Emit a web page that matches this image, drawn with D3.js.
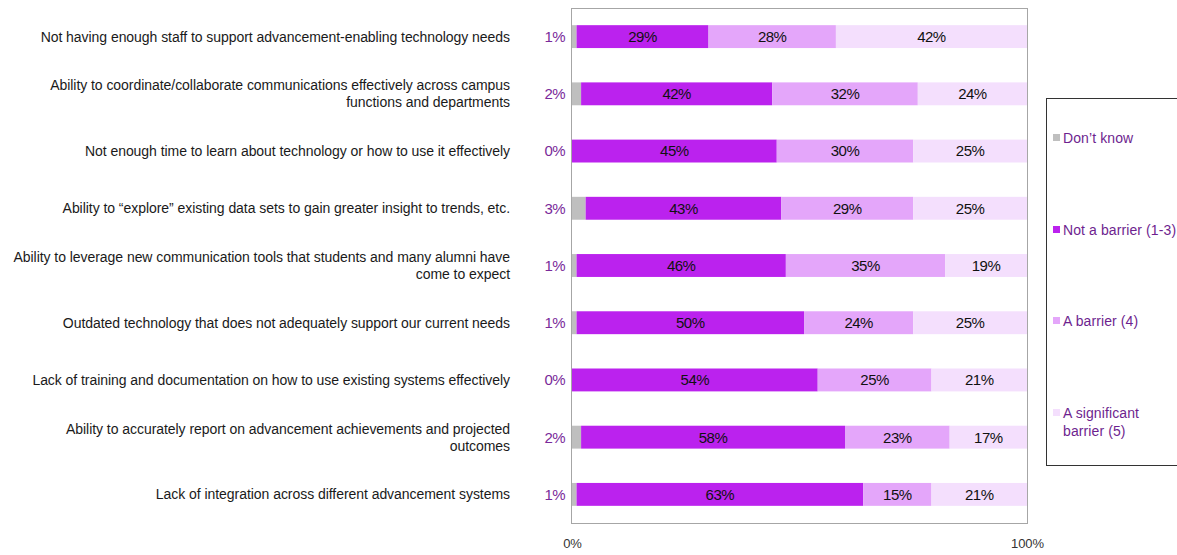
<!DOCTYPE html>
<html>
<head>
<meta charset="utf-8">
<script src="https://cdn.jsdelivr.net/npm/d3@7"></script>
<style>
  html, body { margin: 0; padding: 0; background: #fff; }
  svg { display: block; font-family: "Liberation Sans", Arial, sans-serif; }
</style>
</head>
<body>
<svg id="chart" width="1177" height="555"></svg>
<script>
// Survey items, top to bottom (each entry holds the label lines)
const categories = [
  ["Not having enough staff to support advancement-enabling technology needs"],
  ["Ability to coordinate/collaborate communications effectively across campus", "functions and departments"],
  ["Not enough time to learn about technology or how to use it effectively"],
  ["Ability to \u201cexplore\u201d existing data sets to  gain greater insight to trends, etc."],
  ["Ability to leverage new communication tools that students and many alumni have", "come to expect"],
  ["Outdated technology that does not adequately support our current needs"],
  ["Lack of training and documentation on how to use existing systems effectively"],
  ["Ability to accurately report on advancement achievements and projected", "outcomes"],
  ["Lack of integration across different advancement systems"]
];

const seriesNames = ["Don\u2019t know", "Not a barrier (1-3)", "A barrier (4)", "A significant barrier (5)"];
const dontKnow    = [1, 2, 0, 3, 1, 1, 0, 2, 1];
const notBarrier  = [29, 42, 45, 43, 46, 50, 54, 58, 63];
const aBarrier    = [28, 32, 30, 29, 35, 24, 25, 23, 15];
const significant = [42, 24, 25, 25, 19, 25, 21, 17, 21];
const xTicks = [0, 100];

const colors = ["#BFBFBF", "#BB22EE", "#E4A6FA", "#F4DFFD"];

const svg = d3.select("#chart");
const plot = { left: 571, right: 1027, top: 8, bottom: 523 };

const rows = categories.map((c, i) => ({
  idx: i, label: c,
  k0: dontKnow[i], k1: notBarrier[i], k2: aBarrier[i], k3: significant[i]
}));
const keys = ["k0", "k1", "k2", "k3"];
const stacked = d3.stack().keys(keys)(rows);

const x = d3.scaleLinear().domain([0, 100]).range([plot.left + 1, plot.right]);
const y = d3.scaleBand().domain(d3.range(categories.length))
  .range([plot.top, plot.bottom]).paddingInner(0.6).paddingOuter(0.3);

// Keep segments inside the plot area
svg.append("defs").append("clipPath").attr("id", "plotClip")
  .append("rect").attr("x", plot.left).attr("y", plot.top)
  .attr("width", plot.right - plot.left).attr("height", plot.bottom - plot.top);

// Plot frame
svg.append("rect")
  .attr("x", plot.left + 0.5).attr("y", plot.top + 0.5)
  .attr("width", plot.right - plot.left).attr("height", plot.bottom - plot.top)
  .attr("fill", "none").attr("stroke", "#A6A6A6").attr("stroke-width", 1);

const barsG = svg.append("g").attr("clip-path", "url(#plotClip)");
stacked.forEach((layer, li) => {
  barsG.append("g").selectAll("rect").data(layer).join("rect")
    .attr("x", d => x(d[0]))
    .attr("y", d => y(d.data.idx))
    .attr("width", d => Math.max(0, x(d[1]) - x(d[0])))
    .attr("height", y.bandwidth())
    .attr("fill", colors[li]);
});

// Segment value labels (inside bars)
stacked.slice(1).forEach(layer => {
  svg.append("g").selectAll("text").data(layer).join("text")
    .attr("x", d => (x(d[0]) + Math.min(x(d[1]), plot.right)) / 2)
    .attr("y", d => y(d.data.idx) + y.bandwidth() / 2)
    .attr("dy", "0.36em")
    .attr("text-anchor", "middle")
    .attr("font-size", 15)
    .attr("letter-spacing", "-0.5px")
    .attr("fill", "#111")
    .text(d => (d[1] - d[0]) + "%");
});

// "Don't know" values to the left of the axis
svg.append("g").selectAll("text").data(rows).join("text")
  .attr("x", plot.left - 6)
  .attr("y", d => y(d.idx) + y.bandwidth() / 2)
  .attr("dy", "0.36em")
  .attr("text-anchor", "end")
  .attr("font-size", 15)
  .attr("letter-spacing", "-0.6px")
  .attr("fill", "#7A2A9A")
  .text(d => d.k0 + "%");

// Category labels
const catG = svg.append("g");
rows.forEach(r => {
  const cy = y(r.idx) + y.bandwidth() / 2;
  const n = r.label.length;
  const lh = 17;
  r.label.forEach((line, li) => {
    catG.append("text")
      .attr("x", 510)
      .attr("y", cy + (li - (n - 1) / 2) * lh)
      .attr("dy", "0.35em")
      .attr("text-anchor", "end")
      .attr("font-size", 14)
      .attr("letter-spacing", "-0.05px")
      .attr("fill", "#1a1a1a")
      .text(line);
  });
});

// X axis tick labels
const xAxis = d3.axisBottom(x).tickValues(xTicks).tickFormat(d => d + "%").tickSize(0).tickPadding(16);
const ax = svg.append("g").attr("transform", `translate(0,${plot.bottom})`).call(xAxis);
ax.select(".domain").remove();
ax.selectAll("text").attr("font-size", 13).attr("letter-spacing", "-0.1px")
  .attr("fill", "#333").attr("font-family", "Liberation Sans, Arial, sans-serif");

// Legend
const legend = svg.append("g");
legend.append("rect")
  .attr("x", 1046.5).attr("y", 98.5).attr("width", 140).attr("height", 367)
  .attr("fill", "#fff").attr("stroke", "#333").attr("stroke-width", 1);
const legendY = [138, 230, 321, 413];
seriesNames.forEach((name, i) => {
  const g = legend.append("g").attr("transform", `translate(1053,${legendY[i]})`);
  g.append("rect").attr("x", 0).attr("y", -4).attr("width", 7).attr("height", 7).attr("fill", colors[i]);
  const lines = i === 3 ? ["A significant", "barrier (5)"] : [name];
  lines.forEach((ln, li) => {
    g.append("text").attr("x", 10).attr("y", li * 18).attr("dy", "0.35em")
      .attr("font-size", 14).attr("letter-spacing", "0.1px").attr("fill", "#6E1F8F").text(ln);
  });
});
</script>
</body>
</html>
